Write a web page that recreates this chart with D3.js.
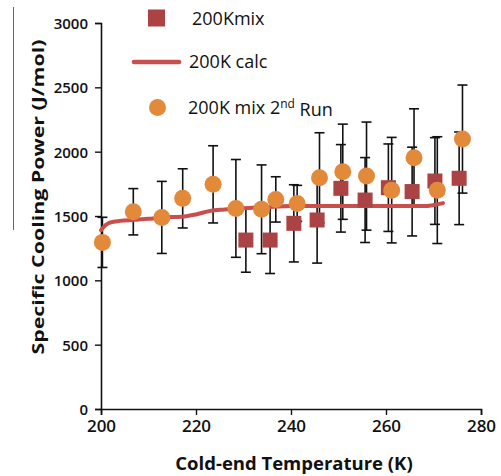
<!DOCTYPE html>
<html>
<head>
<meta charset="utf-8">
<script src="https://cdn.jsdelivr.net/npm/d3@7"></script>
<style>
  html, body { margin: 0; padding: 0; background: #fff; }
  svg { display: block; font-family: "Open Sans", sans-serif; }
</style>
</head>
<body>
<script>
// 200Kmix (squares)
const mixT = [230.5, 235.6, 240.6, 245.5, 250.5, 255.6, 260.5, 265.5, 270.3, 275.4];
const mixP = [1313, 1313, 1443, 1469, 1715, 1624, 1720, 1690, 1772, 1793];
const mixErr = [250, 260, 300, 335, 340, 330, 340, 345, 337, 360];

// 200K mix 2nd Run (circles)
const runT = [200.3, 206.8, 212.8, 217.2, 223.6, 228.4, 233.8, 236.8, 241.3, 246.0, 250.9, 255.9, 261.2, 265.9, 270.8, 276.1];
const runP = [1295, 1533, 1489, 1637, 1746, 1559, 1552, 1629, 1598, 1797, 1844, 1810, 1701, 1953, 1701, 2098];
const runErr = [195, 180, 280, 230, 300, 380, 345, 176, 140, 350, 370, 420, 410, 380, 415, 420];

// 200K calc (line)
const calcT = [200, 201, 202, 204, 207, 210, 213, 217, 220, 223, 226, 230, 235, 240, 250, 260, 268, 270, 272];
const calcP = [1390, 1430, 1450, 1462, 1470, 1478, 1489, 1494, 1512, 1540, 1550, 1560, 1570, 1577, 1577, 1577, 1577, 1585, 1600];

const xTicks = [200, 220, 240, 260, 280];
const yTicks = [0, 500, 1000, 1500, 2000, 2500, 3000];

const W = 501, H = 476;
const margin = { left: 101, top: 23, right: 20, bottom: 67 };
const iw = W - margin.left - margin.right;
const ih = H - margin.top - margin.bottom;

const colSquare = "#ab4345";
const colLine = "#c94f4d";
const colCircle = "#e2893a";

const svg = d3.select("body").append("svg")
    .attr("width", W)
    .attr("height", H);

// stray scan line at the far left
svg.append("line")
    .attr("x1", 13.5).attr("x2", 13.5)
    .attr("y1", 7).attr("y2", 230)
    .attr("stroke", "#666").attr("stroke-width", 1);

const g = svg.append("g").attr("transform", `translate(${margin.left},${margin.top})`);

const x = d3.scaleLinear().domain([200, 280]).range([0, iw]);
const y = d3.scaleLinear().domain([0, 3000]).range([ih, 0]);

const xAxis = g.append("g")
    .attr("transform", `translate(0,${ih})`)
    .call(d3.axisBottom(x).tickValues(xTicks).tickFormat(d3.format("d"))
        .tickSizeOuter(0).tickSize(6).tickPadding(5));
const yAxis = g.append("g")
    .call(d3.axisLeft(y).tickValues(yTicks).tickFormat(d3.format("d"))
        .tickSizeOuter(0).tickSize(6).tickPadding(7));

[xAxis, yAxis].forEach(a => {
    a.select(".domain").attr("stroke", "#111").attr("stroke-width", 1.6);
    a.selectAll(".tick line").attr("stroke", "#111").attr("stroke-width", 1.4);
    a.selectAll(".tick text")
        .attr("fill", "#111")
        .style("font-family", "'Open Sans', sans-serif")
        .style("font-weight", 600);
});
xAxis.selectAll(".tick text").style("font-size", "17px");
yAxis.selectAll(".tick text").style("font-size", "15px").attr("dy", "0.36em");

// error bars
const errData = [];
mixT.forEach((t, i) => errData.push({ t, p: mixP[i], e: mixErr[i] }));
runT.forEach((t, i) => errData.push({ t, p: runP[i], e: runErr[i] }));

const capW = 5;
const eb = g.append("g").attr("stroke", "#111").attr("stroke-width", 1.6);
eb.selectAll("line.v").data(errData).join("line")
    .attr("x1", d => x(d.t)).attr("x2", d => x(d.t))
    .attr("y1", d => y(d.p - d.e)).attr("y2", d => y(d.p + d.e));
eb.selectAll("line.top").data(errData).join("line")
    .attr("x1", d => x(d.t) - capW).attr("x2", d => x(d.t) + capW)
    .attr("y1", d => y(d.p + d.e)).attr("y2", d => y(d.p + d.e));
eb.selectAll("line.bot").data(errData).join("line")
    .attr("x1", d => x(d.t) - capW).attr("x2", d => x(d.t) + capW)
    .attr("y1", d => y(d.p - d.e)).attr("y2", d => y(d.p - d.e));

// calc line
const line = d3.line()
    .x(d => x(d[0]))
    .y(d => y(d[1]))
    .curve(d3.curveMonotoneX);
g.append("path")
    .datum(calcT.map((t, i) => [t, calcP[i]]))
    .attr("d", line)
    .attr("fill", "none")
    .attr("stroke", colLine)
    .attr("stroke-width", 4)
    .attr("stroke-linecap", "round");

// squares
const sq = 15;
g.selectAll("rect.mix").data(mixT).join("rect")
    .attr("x", d => x(d) - sq / 2)
    .attr("y", (d, i) => y(mixP[i]) - sq / 2)
    .attr("width", sq).attr("height", sq)
    .attr("fill", colSquare);

// circles
g.selectAll("circle.run").data(runT).join("circle")
    .attr("cx", d => x(d))
    .attr("cy", (d, i) => y(runP[i]))
    .attr("r", 8.5)
    .attr("fill", colCircle);

// axis titles
svg.append("text")
    .attr("x", 294).attr("y", 470)
    .attr("text-anchor", "middle")
    .style("font-size", "18.5px").style("font-weight", 700)
    .attr("fill", "#111")
    .text("Cold-end Temperature (K)");

svg.append("text")
    .attr("transform", "translate(44,197) rotate(-90)")
    .attr("text-anchor", "middle")
    .attr("textLength", 315)
    .attr("lengthAdjust", "spacingAndGlyphs")
    .style("font-size", "16px").style("font-weight", 700)
    .attr("fill", "#111")
    .text("Specific Cooling  Power (J/mol)");

// legend
const lg = svg.append("g").style("font-size", "18px").attr("fill", "#111");
lg.append("rect")
    .attr("x", 148).attr("y", 9.5).attr("width", 17).attr("height", 17)
    .attr("fill", colSquare);
lg.append("text").attr("x", 192).attr("y", 25).text("200Kmix");

lg.append("line")
    .attr("x1", 134).attr("x2", 179).attr("y1", 62).attr("y2", 62)
    .attr("stroke", colLine).attr("stroke-width", 4.5).attr("stroke-linecap", "round");
lg.append("text").attr("x", 189).attr("y", 68).text("200K calc");

lg.append("circle")
    .attr("cx", 157.5).attr("cy", 107.5).attr("r", 8.5)
    .attr("fill", colCircle);
const t3 = lg.append("text").attr("x", 188).attr("y", 113.5);
t3.append("tspan").text("200K mix 2");
t3.append("tspan").attr("dy", "-0.45em").style("font-size", "12px").text("nd");
t3.append("tspan").attr("dy", "0.45em").text(" Run");
</script>
</body>
</html>
